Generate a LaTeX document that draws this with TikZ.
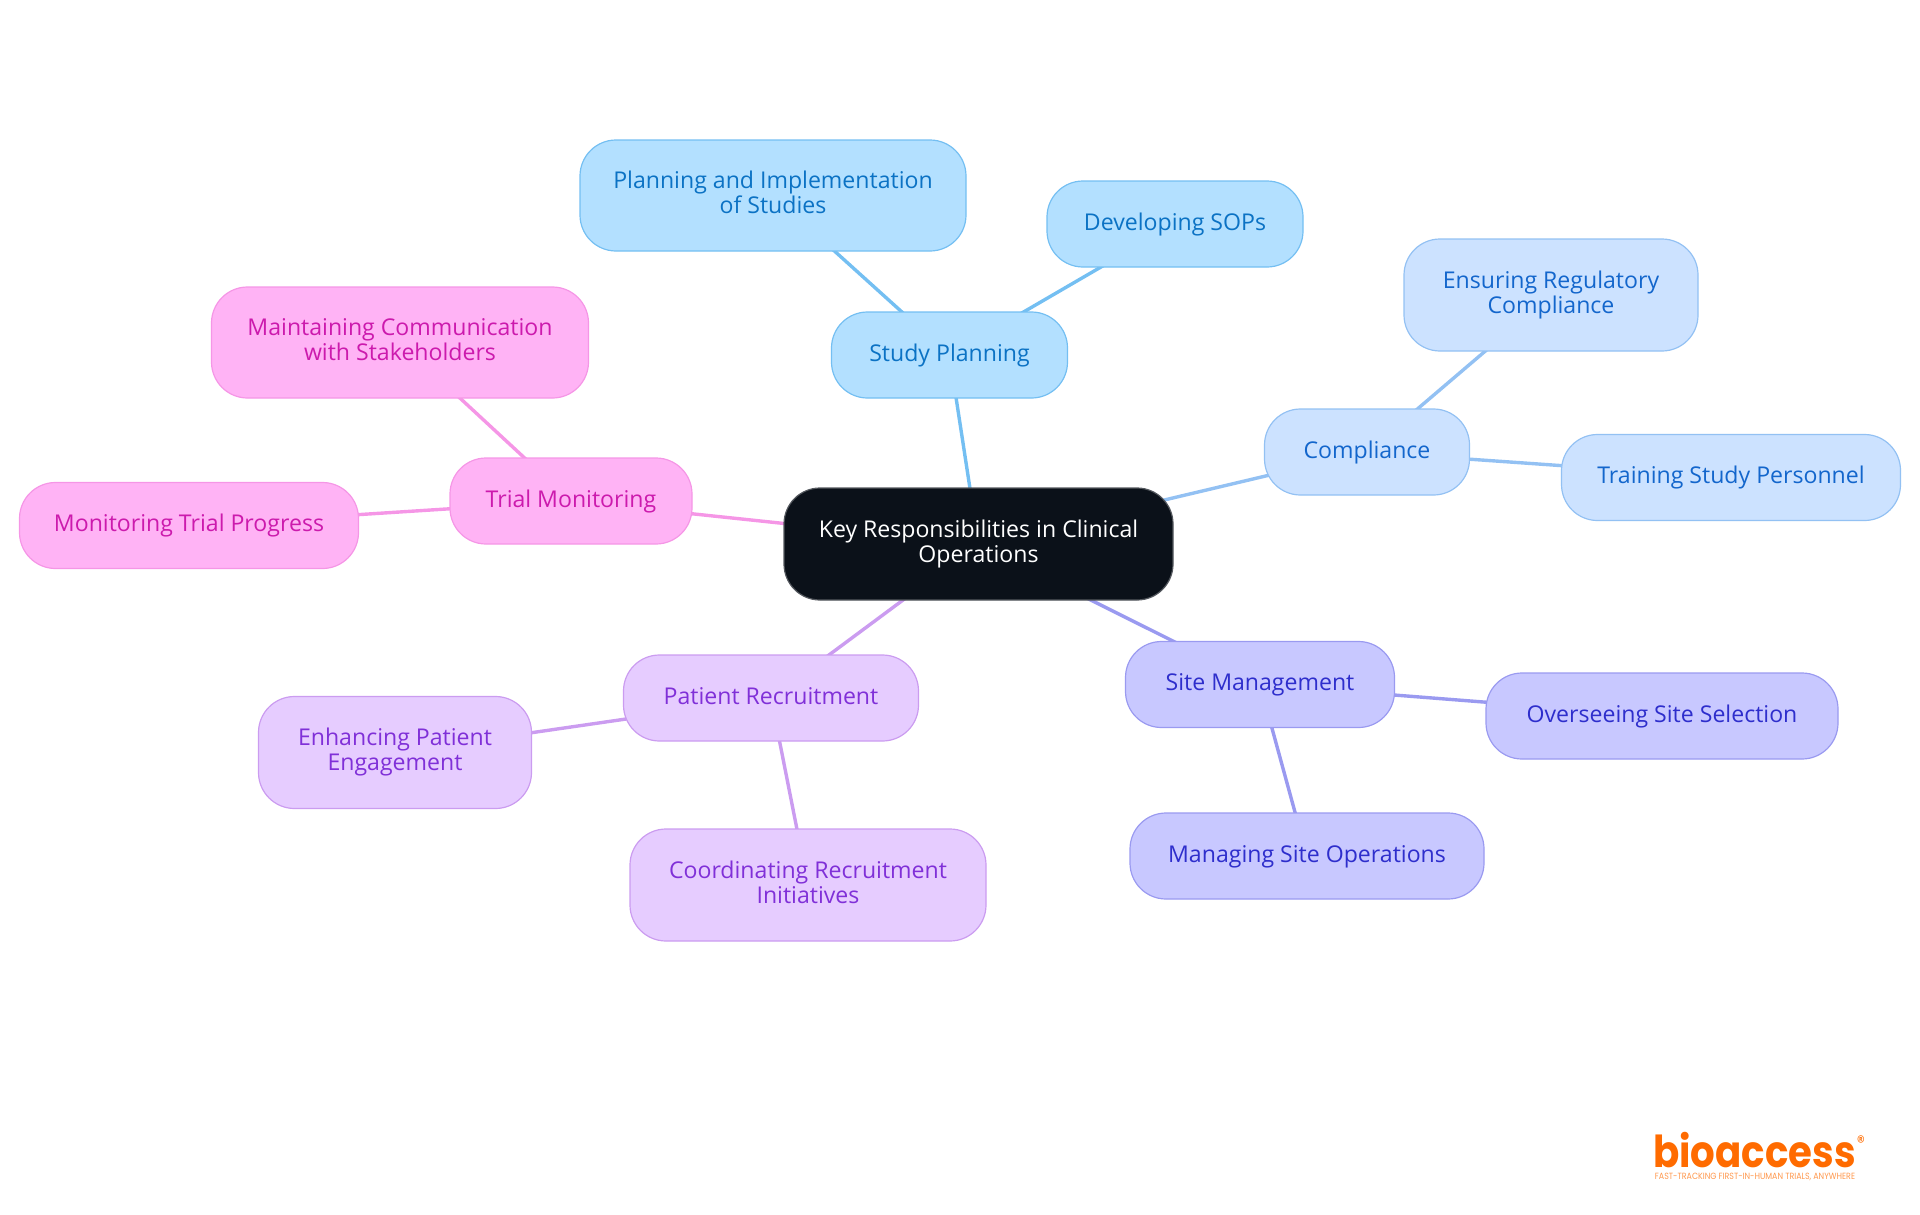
\documentclass[tikz,border=0pt]{standalone}
\usepackage{fontspec}
\usepackage{xcolor}
\usetikzlibrary{backgrounds}
\setmainfont{Open Sans}
\newfontfamily\logofont[FakeStretch=0.88]{Poppins}
\newcommand{\mapstrut}{\rule[-6pt]{0pt}{24pt}}
\definecolor{rootfill}{HTML}{0B1119}
\definecolor{studyfill}{HTML}{B3E0FF}
\definecolor{studyline}{HTML}{74BFF2}
\definecolor{studytext}{HTML}{0B72C4}
\definecolor{compfill}{HTML}{CCE2FF}
\definecolor{compline}{HTML}{93C1F3}
\definecolor{comptext}{HTML}{1366CC}
\definecolor{sitefill}{HTML}{C8C8FF}
\definecolor{siteline}{HTML}{9A9AF0}
\definecolor{sitetext}{HTML}{2E2ECC}
\definecolor{patientfill}{HTML}{E6CCFF}
\definecolor{patientline}{HTML}{CB9CF0}
\definecolor{patienttext}{HTML}{8030D8}
\definecolor{trialfill}{HTML}{FFB3F5}
\definecolor{trialline}{HTML}{F596E6}
\definecolor{trialtext}{HTML}{CC1AAD}
\definecolor{logoorange}{HTML}{FF6B00}
\tikzset{
    map-box/.style = {rectangle, rounded corners=36pt, line width=1.2pt, align=center, font=\fontsize{23.1}{25.3}\selectfont, execute at begin node=\mapstrut, execute at end node=\mapstrut},
    two-line/.style = {minimum height=112pt, execute at begin node=\rule{0pt}{20pt}},
    root-box/.style = {map-box, two-line, draw=rootfill!70!white, fill=rootfill, text=white, minimum width=389pt},
    study-box/.style = {map-box, draw=studyline, fill=studyfill, text=studytext},
    comp-box/.style = {map-box, draw=compline, fill=compfill, text=comptext},
    site-box/.style = {map-box, draw=siteline, fill=sitefill, text=sitetext},
    patient-box/.style = {map-box, draw=patientline, fill=patientfill, text=patienttext},
    trial-box/.style = {map-box, draw=trialline, fill=trialfill, text=trialtext},
    map-link/.style = {line width=3.4pt},
}
\begin{document}
\begin{tikzpicture}[x=1pt,y=-1pt]
\useasboundingbox (0,0) rectangle (1920,1215);

\node [root-box] (root) at (978.5,544) {Key Responsibilities in Clinical\\Operations};

% study planning
\node [study-box, minimum width=236pt, minimum height=86pt] (study) at (949.5,355) {Study Planning};
\node [study-box, two-line, minimum width=386pt, minimum height=111pt] (studyplan) at (773,195.5) {Planning and Implementation\\of Studies};
\node [study-box, minimum width=256pt, minimum height=86pt] (studysop) at (1175,224) {Developing SOPs};

% compliance
\node [comp-box, minimum width=205pt, minimum height=86pt] (comp) at (1367,452) {Compliance};
\node [comp-box, two-line, minimum width=294pt] (compreg) at (1551,295) {Ensuring Regulatory\\Compliance};
\node [comp-box, minimum width=339pt, minimum height=86pt] (comptrain) at (1731,477.5) {Training Study Personnel};

% site management
\node [site-box, minimum width=269pt, minimum height=86pt] (site) at (1260,684.5) {Site Management};
\node [site-box, minimum width=352pt, minimum height=86pt] (sitesel) at (1662,716) {Overseeing Site Selection};
\node [site-box, minimum width=354pt, minimum height=86pt] (siteops) at (1307,856) {Managing Site Operations};

% patient recruitment
\node [patient-box, minimum width=295pt, minimum height=86pt] (patient) at (771,698) {Patient Recruitment};
\node [patient-box, two-line, minimum width=273pt] (patienteng) at (395,752.5) {Enhancing Patient\\Engagement};
\node [patient-box, two-line, minimum width=356pt] (patientinit) at (808,885) {Coordinating Recruitment\\Initiatives};

% trial monitoring
\node [trial-box, minimum width=242pt, minimum height=86pt] (trial) at (571,501) {Trial Monitoring};
\node [trial-box, two-line, minimum width=377pt, minimum height=111pt] (trialcomm) at (400,342.5) {Maintaining Communication\\with Stakeholders};
\node [trial-box, minimum width=339pt, minimum height=86pt] (trialprog) at (189,525.5) {Monitoring Trial Progress};

\begin{pgfonlayer}{background}
\draw [map-link, studyline] (root.center) -- (study.center);
\draw [map-link, studyline] (study.center) -- (studyplan.center);
\draw [map-link, studyline] (study.center) -- (studysop.center);
\draw [map-link, compline] (root.center) -- (comp.center);
\draw [map-link, compline] (comp.center) -- (compreg.center);
\draw [map-link, compline] (comp.center) -- (comptrain.center);
\draw [map-link, siteline] (root.center) -- (site.center);
\draw [map-link, siteline] (site.center) -- (sitesel.center);
\draw [map-link, siteline] (site.center) -- (siteops.center);
\draw [map-link, patientline] (root.center) -- (patient.center);
\draw [map-link, patientline] (patient.center) -- (patienteng.center);
\draw [map-link, patientline] (patient.center) -- (patientinit.center);
\draw [map-link, trialline] (root.center) -- (trial.center);
\draw [map-link, trialline] (trial.center) -- (trialcomm.center);
\draw [map-link, trialline] (trial.center) -- (trialprog.center);
\end{pgfonlayer}

% logo
\node [anchor=base west, inner sep=0pt, text=logoorange, font=\logofont\bfseries\fontsize{44}{44}\selectfont] (logo) at (1653,1167) {bioaccess};
\node [anchor=center, inner sep=0pt, text=logoorange, font=\logofont\fontsize{18}{18}\selectfont] (logoreg) at (1861,1142) {®};
\node [anchor=center, inner sep=0pt, text=logoorange!70!white, font=\logofont\fontsize{9}{9}\selectfont] (logotag) at (1755,1177) {FAST-TRACKING FIRST-IN-HUMAN TRIALS, ANYWHERE};
\end{tikzpicture}
\end{document}
